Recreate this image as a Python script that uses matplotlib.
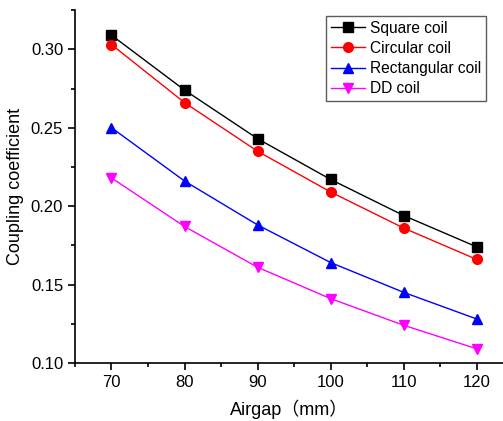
import matplotlib
matplotlib.use("Agg")
import matplotlib.pyplot as plt
from matplotlib.ticker import MultipleLocator

plt.rcParams['font.family'] = ['Liberation Sans', 'Noto Sans CJK SC', 'DejaVu Sans']

airgap = [70, 80, 90, 100, 110, 120]
square = [0.309, 0.274, 0.243, 0.217, 0.194, 0.174]
circular = [0.303, 0.266, 0.235, 0.209, 0.186, 0.166]
rectangular = [0.250, 0.216, 0.188, 0.164, 0.145, 0.128]
dd = [0.218, 0.187, 0.161, 0.141, 0.124, 0.109]
labels = ["Square coil", "Circular coil", "Rectangular coil", "DD coil"]

fig = plt.figure(figsize=(5.03, 4.21), dpi=100)
ax = fig.add_axes([0.149, 0.138, 0.851, 0.838])

ax.plot(airgap, square, '-s', color='black', lw=1, ms=6.5, label=labels[0])
ax.plot(airgap, circular, '-o', color='red', lw=1, ms=7, label=labels[1])
ax.plot(airgap, rectangular, '-^', color='blue', lw=1, ms=7, label=labels[2])
ax.plot(airgap, dd, '-v', color='magenta', lw=1, ms=7, label=labels[3])

ax.set_xlim(65, 123.6)
ax.set_ylim(0.10, 0.325)
ax.xaxis.set_major_locator(MultipleLocator(10))
ax.xaxis.set_minor_locator(MultipleLocator(5))
ax.yaxis.set_major_locator(MultipleLocator(0.05))
ax.yaxis.set_minor_locator(MultipleLocator(0.025))
ax.yaxis.set_major_formatter(matplotlib.ticker.FormatStrFormatter('%.2f'))
ax.spines['top'].set_visible(False)
ax.spines['right'].set_visible(False)
ax.spines['left'].set_linewidth(1.2)
ax.spines['bottom'].set_linewidth(1.2)
ax.tick_params(which='major', direction='out', length=5, width=1.2, labelsize=12)
ax.tick_params(which='minor', direction='out', length=3, width=1.2)

ax.set_xlabel("Airgap（mm）", fontsize=13, labelpad=7)
ax.set_ylabel("Coupling coefficient", fontsize=13, labelpad=5)

leg = ax.legend(loc='upper right', bbox_to_anchor=(0.96, 0.983), fontsize=11.2,
                frameon=True, fancybox=False, edgecolor='#333333',
                handlelength=2.2, handletextpad=0.3, borderpad=0.3,
                labelspacing=0.33, borderaxespad=0)
leg.get_frame().set_linewidth(1)

fig.savefig("out.png", dpi=100)
